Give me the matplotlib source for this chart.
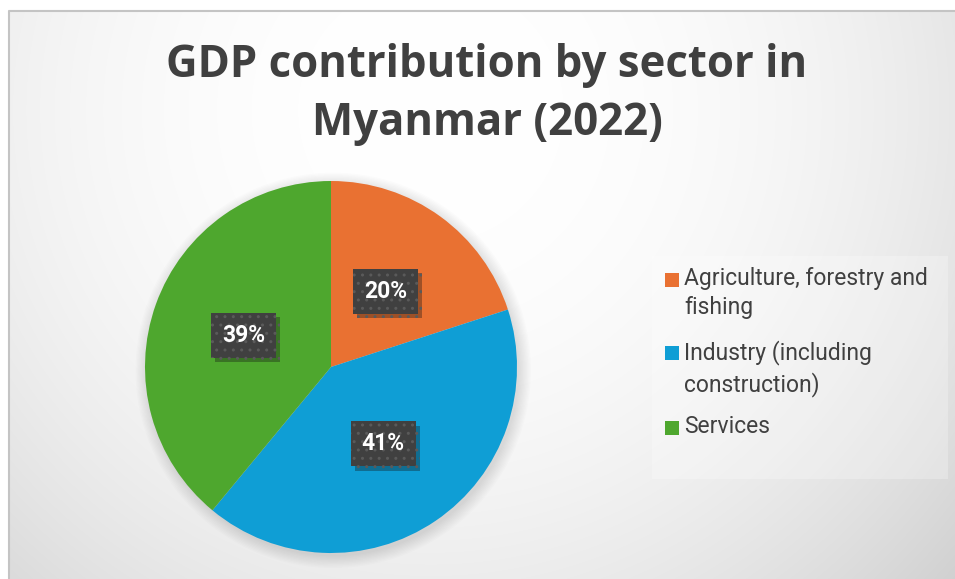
import numpy as np
import matplotlib.pyplot as plt
from matplotlib.patches import Rectangle, Circle
import matplotlib.patheffects as pe

# GDP share by sector, Myanmar 2022 (%)
sectors = ["Agriculture, forestry and\nfishing", "Industry (including\nconstruction)", "Services"]
shares = [20, 41, 39]
colors = ["#E97132", "#0F9ED5", "#4EA72E"]

W, H = 955, 579
plt.rcParams['hatch.color'] = '#5a5a5a'
plt.rcParams['hatch.linewidth'] = 1.0

fig = plt.figure(figsize=(W / 100, H / 100), dpi=100)

# soft grey radial background inside the chart frame
bg = fig.add_axes([0, 0, 1, 1])
yy, xx = np.mgrid[0:H, 0:W]
d = np.hypot(xx - 430, yy - 110)
shade = np.clip(255 - 15 * (d / 430) ** 2.3, 200, 255) / 255
shade[:10, :] = 1
shade[:, :8] = 1
bg.imshow(np.dstack([shade] * 3), extent=[0, W, H, 0], aspect='auto', interpolation='bilinear')
bg.plot([8.5, 8.5, W], [H, 10.5, 10.5], color='#c4c4c4', lw=1.5)
bg.set_xlim(0, W)
bg.set_ylim(H, 0)
bg.axis('off')

# title
fig.text(487 / W, 1 - 77 / H, "GDP contribution by sector in", ha='center', va='baseline',
         fontsize=31.5, fontweight='bold', color='#404040', family='Open Sans')
fig.text(487 / W, 1 - 135 / H, "Myanmar (2022)", ha='center', va='baseline',
         fontsize=31.5, fontweight='bold', color='#404040', family='Open Sans')

# pie
cx, cy, r = 331, 367, 186
ax = fig.add_axes([(cx - r) / W, (H - cy - r) / H, 2 * r / W, 2 * r / H])
for i in range(10):
    ax.add_patch(Circle((0.012, -0.018), 1.0 + i * 0.007, color='black', alpha=0.010, lw=0, clip_on=False))
wedges, texts, autotexts = ax.pie(shares, colors=colors, startangle=90, counterclock=False,
                                  autopct='%d%%', pctdistance=0.5,
                                  wedgeprops=dict(linewidth=0))
ax.set_xlim(-1, 1)
ax.set_ylim(-1, 1)
ax.axis('off')

for t in autotexts:
    t.set(color='white', fontsize=16.5, fontweight='bold', family='Roboto', zorder=5)
    t.set_bbox(dict(boxstyle='square,pad=0.48', facecolor='#404040', edgecolor='#5a5a5a',
                    linewidth=0, hatch='..'))
    t.get_bbox_patch().set_path_effects([pe.SimplePatchShadow(offset=(3, -3), alpha=0.35),
                                         pe.Normal()])

# legend drawn as squares plus labels
bg.add_patch(Rectangle((652, 256), 296, 223, facecolor='white', alpha=0.25, lw=0))
leg_y = [280, 353, 428]
for lab, col, y in zip(sectors, colors, leg_y):
    bg.add_patch(Rectangle((665, y - 7), 14, 14, facecolor=col, lw=0))
    bg.text(684, y - 13, lab, ha='left', va='top', fontsize=16.5, color='#404040',
            family='Roboto', linespacing=1.36)

fig.savefig('out.png', dpi=100)
